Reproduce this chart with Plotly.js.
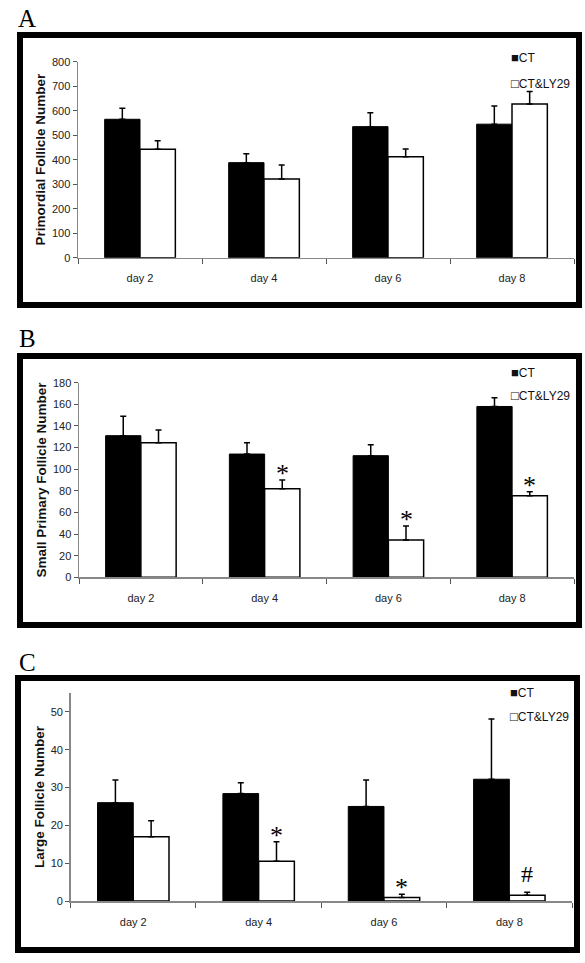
<!DOCTYPE html>
<html>
<head>
<meta charset="utf-8">
<script src="https://cdn.plot.ly/plotly-3.0.1.min.js"></script>
<style>html,body{margin:0;padding:0;background:#fff;}#chart{width:585px;height:963px;}</style>
</head>
<body>
<div id="chart"></div>
<script>
const days = ['day 2', 'day 4', 'day 6', 'day 8'];
const seriesNames = ['CT', 'CT&LY29'];

// A: Primordial follicle number
const primCT = [565, 388, 535, 545];
const primCTErr = [45, 36, 57, 74];
const primLY = [443, 321, 412, 627];
const primLYErr = [34, 57, 32, 51];

// B: Small primary follicle number
const smallCT = [131, 114, 112.5, 158];
const smallCTErr = [18, 10.5, 10, 8];
const smallLY = [124.5, 82, 34.5, 75.5];
const smallLYErr = [11.7, 8, 13, 3.7];
const smallSig = ['', '*', '*', '*'];

// C: Large follicle number
const largeCT = [26, 28.4, 25, 32.2];
const largeCTErr = [6, 2.9, 7, 15.9];
const largeLY = [17, 10.5, 0.9, 1.5];
const largeLYErr = [4.2, 5.2, 0.9, 0.8];
const largeSig = ['', '*', '*', '#'];

const W = 585, H = 963;
const px = v => v / W;
const py = v => 1 - v / H;

const tickFont = {family: 'Liberation Sans Narrow, Arial Narrow, Liberation Sans, Arial', size: 11, color: '#222'};
const titleFont = {family: 'Liberation Sans, Arial', size: 13.5, color: '#111', weight: 'bold'};
const zeros = [0, 0, 0, 0];

function barPair(ctVals, ctErr, lyVals, lyErr, xa, ya) {
  return [
    {type: 'bar', x: days, y: ctVals, name: seriesNames[0], xaxis: xa, yaxis: ya,
     marker: {color: '#000', line: {color: '#000', width: 1}},
     error_y: {type: 'data', symmetric: false, array: ctErr, arrayminus: zeros, color: '#000', thickness: 1.5, width: 3},
     showlegend: false, hoverinfo: 'skip'},
    {type: 'bar', x: days, y: lyVals, name: seriesNames[1], xaxis: xa, yaxis: ya,
     marker: {color: '#fff', line: {color: '#000', width: 1.5}},
     error_y: {type: 'data', symmetric: false, array: lyErr, arrayminus: zeros, color: '#000', thickness: 1.5, width: 3},
     showlegend: false, hoverinfo: 'skip'}
  ];
}

const data = [
  ...barPair(primCT, primCTErr, primLY, primLYErr, 'x', 'y'),
  ...barPair(smallCT, smallCTErr, smallLY, smallLYErr, 'x2', 'y2'),
  ...barPair(largeCT, largeCTErr, largeLY, largeLYErr, 'x3', 'y3')
];

function xAxis(dom, anchor) {
  return {domain: dom, anchor: anchor, type: 'category', showline: true, linecolor: '#888', linewidth: 1.5,
          ticks: 'outside', tickson: 'boundaries', ticklen: 5, tickcolor: '#555', tickwidth: 1,
          tickfont: tickFont, ticklabelstandoff: 10, showgrid: false, zeroline: false, fixedrange: true};
}
function yAxis(dom, anchor, range, dtick, title) {
  return {domain: dom, anchor: anchor, range: range, dtick: dtick, showline: true, linecolor: '#888', linewidth: 1.5,
          ticks: 'outside', ticklen: 4, tickcolor: '#555', tickwidth: 1, tickfont: tickFont,
          showgrid: false, zeroline: false, fixedrange: true,
          title: {text: title, font: titleFont, standoff: 3}};
}

const annotations = [];
// Panel letters
[['A', 19], ['B', 339], ['C', 662]].forEach(([t, y]) => {
  annotations.push({text: t, xref: 'paper', yref: 'paper', x: px(27), y: py(y), xanchor: 'center', yanchor: 'middle',
                    showarrow: false, font: {family: 'Liberation Serif, Times New Roman', size: 25, color: '#000'}});
});
// Legends
const legendFont = {family: 'Liberation Sans Narrow, Arial Narrow, Liberation Sans, Arial', size: 12, color: '#111'};
const sq = c => '<span style="font-size:13px">' + c + '</span>';
[[58, 83], [372, 395], [692, 716]].forEach(([y1, y2], i) => {
  const x0 = i === 2 ? 508 : 509;
  annotations.push({text: sq('■') + seriesNames[0], xref: 'paper', yref: 'paper', x: px(x0), y: py(y1), xanchor: 'left', yanchor: 'middle', showarrow: false, font: legendFont});
  annotations.push({text: sq('□') + seriesNames[1], xref: 'paper', yref: 'paper', x: px(x0), y: py(y2), xanchor: 'left', yanchor: 'middle', showarrow: false, font: legendFont});
});
// Significance marks above CT&LY29 bars
const lyOffset = 0.1425;
function addSig(sig, vals, errs, xref, yref) {
  sig.forEach((s, i) => {
    if (!s) return;
    annotations.push({text: s, xref: xref, yref: yref, x: i + lyOffset, y: vals[i] + errs[i],
                      xanchor: 'center', yanchor: 'bottom', yshift: s === '#' ? 3 : -10, showarrow: false,
                      font: {family: 'Liberation Serif, Times New Roman', size: s === '#' ? 24 : 26, color: '#000'}});
  });
}
addSig(smallSig, smallLY, smallLYErr, 'x2', 'y2');
addSig(largeSig, largeLY, largeLYErr, 'x3', 'y3');

const frame = (x0, y0, x1, y1) => ({type: 'rect', xref: 'paper', yref: 'paper', x0: px(x0), x1: px(x1), y0: py(y1), y1: py(y0),
                                    line: {color: '#000', width: 6}, fillcolor: 'rgba(0,0,0,0)', layer: 'above'});

const layout = {
  width: W, height: H, margin: {l: 0, r: 0, t: 0, b: 0},
  paper_bgcolor: '#fff', plot_bgcolor: 'rgba(0,0,0,0)',
  barmode: 'group', bargap: 0.43, bargroupgap: 0,
  showlegend: false,
  xaxis: xAxis([px(78), px(574)], 'y'),
  yaxis: yAxis([py(257.7), py(61.7)], 'x', [0, 800], 100, 'Primordial Follicle Number'),
  xaxis2: xAxis([px(79), px(574)], 'y2'),
  yaxis2: yAxis([py(577.3), py(382.7)], 'x2', [0, 180], 20, 'Small Primary Follicle Number'),
  xaxis3: xAxis([px(70.6), px(572)], 'y3'),
  yaxis3: yAxis([py(901), py(693)], 'x3', [0, 55], 10, 'Large Follicle Number'),
  annotations: annotations,
  shapes: [frame(20, 35, 579, 305), frame(20, 356, 579, 625), frame(18, 678, 577, 950)]
};

Plotly.newPlot('chart', data, layout, {staticPlot: true, displayModeBar: false});
</script>
</body>
</html>
